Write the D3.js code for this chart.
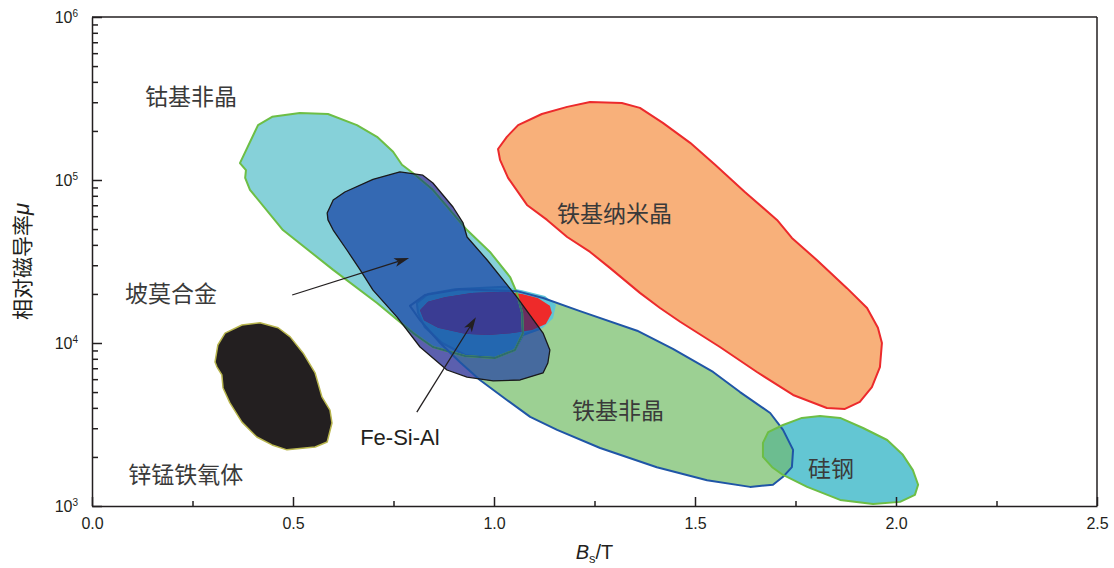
<!DOCTYPE html>
<html>
<head>
<meta charset="utf-8">
<script src="https://cdn.jsdelivr.net/npm/d3@7"></script>
<style>
  body { margin: 0; background: #fff; }
  svg { display: block; }
</style>
</head>
<body>
<div id="chart"></div>
<script>
// ─── Data: region outlines, [Bs (T), relative permeability μ] ───
const cobaltAmorphous = [
  [0.368, 1.27e5], [0.413, 2.17e5], [0.448, 2.44e5], [0.517, 2.58e5], [0.587, 2.54e5],
  [0.659, 2.17e5], [0.709, 1.84e5], [0.749, 1.49e5], [0.771, 1.24e5], [0.799, 1.10e5],
  [0.848, 8.7e4], [0.933, 4.93e4], [0.990, 3.62e4], [1.040, 2.54e4], [1.057, 2.03e4],
  [1.070, 1.53e4], [1.072, 1.15e4], [1.052, 9.06e3], [1.002, 8.09e3], [0.928, 8.32e3],
  [0.848, 9.45e3], [0.799, 1.15e4], [0.709, 1.76e4], [0.600, 2.81e4], [0.475, 4.93e4],
  [0.393, 8.7e4], [0.381, 1.03e5], [0.383, 1.15e5],
];

const permalloy = [
  [0.585, 6.28e4], [0.600, 7.54e4], [0.629, 8.44e4], [0.699, 1.01e5], [0.766, 1.12e5],
  [0.823, 1.07e5], [0.848, 9.59e4], [0.898, 6.83e4], [0.923, 5.45e4], [0.933, 4.47e4],
  [0.983, 3.23e4], [1.057, 1.91e4], [1.122, 1.15e4], [1.139, 9.06e3], [1.134, 7.54e3],
  [1.122, 6.55e3], [1.065, 5.93e3], [0.998, 5.85e3], [0.933, 6.18e3], [0.883, 6.83e3],
  [0.816, 9.45e3], [0.759, 1.44e4], [0.699, 2.11e4], [0.667, 2.81e4], [0.634, 3.72e4],
  [0.600, 4.93e4], [0.587, 5.69e4],
];

const ironNanocrystal = [
  [1.010, 1.55e5], [1.032, 1.84e5], [1.060, 2.17e5], [1.119, 2.54e5], [1.182, 2.81e5],
  [1.239, 3.01e5], [1.318, 2.97e5], [1.363, 2.77e5], [1.420, 2.24e5], [1.488, 1.69e5],
  [1.550, 1.24e5], [1.624, 8.44e4], [1.704, 5.69e4], [1.741, 4.41e4], [1.803, 3.23e4],
  [1.878, 2.17e4], [1.928, 1.64e4], [1.955, 1.24e4], [1.965, 1.00e4], [1.960, 7.12e3],
  [1.940, 5.37e3], [1.910, 4.35e3], [1.873, 3.94e3], [1.828, 3.99e3], [1.744, 4.80e3],
  [1.654, 6.64e3], [1.562, 9.45e3], [1.463, 1.35e4], [1.413, 1.64e4], [1.363, 2.03e4],
  [1.289, 2.88e4], [1.239, 3.62e4], [1.182, 4.47e4], [1.132, 5.69e4], [1.082, 7.03e4],
  [1.035, 1.03e5], [1.015, 1.33e5],
];

const ironAmorphous = [
  [0.791, 1.69e4], [0.828, 1.97e4], [0.915, 2.14e4], [1.057, 2.08e4], [1.122, 1.89e4],
  [1.214, 1.57e4], [1.356, 1.19e4], [1.445, 9.19e3], [1.545, 6.64e3], [1.612, 5.00e3],
  [1.687, 3.72e3], [1.719, 2.93e3], [1.744, 2.21e3], [1.741, 1.73e3], [1.719, 1.51e3],
  [1.694, 1.35e3], [1.637, 1.31e3], [1.530, 1.44e3], [1.405, 1.73e3], [1.264, 2.27e3],
  [1.157, 2.93e3], [1.090, 3.52e3], [1.032, 4.47e3], [0.965, 5.93e3], [0.915, 7.64e3],
  [0.866, 1.00e4], [0.816, 1.38e4],
];

const siliconSteel = [
  [1.669, 2.44e3], [1.682, 2.84e3], [1.719, 3.14e3], [1.766, 3.47e3], [1.811, 3.56e3],
  [1.861, 3.47e3], [1.918, 3.01e3], [1.978, 2.54e3], [2.017, 2.06e3], [2.042, 1.66e3],
  [2.055, 1.35e3], [2.047, 1.17e3], [2.010, 1.06e3], [1.943, 1.03e3], [1.861, 1.09e3],
  [1.779, 1.31e3], [1.719, 1.55e3], [1.692, 1.73e3], [1.669, 2.00e3],
];

const mnZnFerrite = [
  [0.306, 7.64e3], [0.313, 9.72e3], [0.331, 1.15e4], [0.373, 1.29e4], [0.418, 1.33e4],
  [0.463, 1.24e4], [0.493, 1.09e4], [0.525, 8.69e3], [0.555, 6.55e3], [0.572, 4.67e3],
  [0.592, 3.88e3], [0.597, 3.23e3], [0.585, 2.47e3], [0.555, 2.30e3], [0.485, 2.21e3],
  [0.448, 2.37e3], [0.410, 2.65e3], [0.373, 3.27e3], [0.343, 4.29e3], [0.326, 5.30e3],
  [0.323, 6.37e3], [0.311, 7.12e3],
];

// Fe-Si-Al: outer band and inner core
const feSiAlOuter = [
  [0.808, 1.76e4], [0.836, 2.00e4], [0.903, 2.14e4], [1.027, 2.21e4], [1.070, 2.11e4],
  [1.127, 1.94e4], [1.154, 1.71e4], [1.147, 1.42e4], [1.122, 1.24e4], [1.072, 1.12e4],
  [1.052, 9.06e3], [1.002, 8.09e3], [0.928, 8.44e3], [0.871, 1.00e4], [0.828, 1.25e4],
  [0.811, 1.53e4],
];
const feSiAlInner = [
  [0.816, 1.59e4], [0.836, 1.79e4], [0.878, 1.91e4], [0.945, 2.03e4], [1.027, 2.06e4],
  [1.070, 2.00e4], [1.109, 1.89e4], [1.139, 1.69e4], [1.144, 1.53e4], [1.129, 1.31e4],
  [1.095, 1.20e4], [1.045, 1.15e4], [0.985, 1.12e4], [0.928, 1.14e4], [0.861, 1.24e4],
  [0.826, 1.38e4],
];

// Region labels: text, left edge Bs, centre μ
const labels = [
  { text: "钴基非晶", bs: 0.132, mu: 3.32e5 },
  { text: "铁基纳米晶", bs: 1.157, mu: 6.37e4 },
  { text: "坡莫合金", bs: 0.082, mu: 2.06e4 },
  { text: "铁基非晶", bs: 1.194, mu: 3.94e3 },
  { text: "锌锰铁氧体", bs: 0.090, mu: 1.59e3 },
  { text: "硅钢", bs: 1.781, mu: 1.73e3 },
];
const feSiAlLabel = { text: "Fe-Si-Al", bs: 0.667, mu: 2.65e3 };

// Arrows: [from, to]
const arrows = [
  [[0.498, 1.97e4], [0.789, 3.32e4]],
  [[0.808, 3.77e3], [0.955, 1.44e4]],
];

const xTicks = [0, 0.5, 1.0, 1.5, 2.0, 2.5];
const xMinorTicks = [0.25, 0.75, 1.25, 1.75, 2.25];
const yExponents = [3, 4, 5, 6];

// ─── Layout ───
const W = 1114, H = 568;
const x = d3.scaleLinear().domain([0, 2.5]).range([92, 1097]);
const y = d3.scaleLog().domain([1e3, 1e6]).range([506, 17]);

const svg = d3.select("#chart").append("svg").attr("width", W).attr("height", H);
const defs = svg.append("defs");
const outline = d3.line().x((d) => x(d[0])).y((d) => y(d[1])).curve(d3.curveLinearClosed);

function addClip(id, pts) {
  defs.append("clipPath").attr("id", id).append("path").attr("d", outline(pts));
}
addClip("clip-cobalt", cobaltAmorphous);
addClip("clip-perm", permalloy);
addClip("clip-feamo", ironAmorphous);

function fill(parent, pts, color, clipId) {
  const p = parent.append("path").attr("d", outline(pts)).attr("fill", color);
  if (clipId) p.attr("clip-path", `url(#${clipId})`);
  return p;
}
function stroke(parent, pts, color, width, clipId) {
  const p = parent.append("path").attr("d", outline(pts))
    .attr("fill", "none").attr("stroke", color).attr("stroke-width", width)
    .attr("stroke-linejoin", "round");
  if (clipId) p.attr("clip-path", `url(#${clipId})`);
  return p;
}

const g = svg.append("g");

// ── Fills ──
fill(g, cobaltAmorphous, "#86D1D9");
fill(g, ironAmorphous, "#9CD093");
fill(g, ironNanocrystal, "#F8B07A");
fill(g, mnZnFerrite, "#231F20");
fill(g, siliconSteel, "#63C6D3");
fill(g, siliconSteel, "#6CBD90", "clip-feamo");

// permalloy and its overlaps
fill(g, permalloy, "#5B5FAE");
fill(g, ironAmorphous, "#466A9E", "clip-perm");
fill(g, cobaltAmorphous, "#3469B3", "clip-perm");

// Fe-Si-Al: plain colours outside permalloy, darker where it lies under it
fill(g, feSiAlOuter, "#5FC5D6");
fill(g, feSiAlInner, "#EE2A2A");
const permG = g.append("g").attr("clip-path", "url(#clip-perm)");
fill(permG, feSiAlOuter, "#2367B0");
stroke(permG, feSiAlOuter, "#1F5CAA", 2);
fill(permG, feSiAlInner, "#6B2D60");
fill(permG, feSiAlInner, "#3A3C93", "clip-cobalt");

// ── Outlines ──
stroke(g, cobaltAmorphous, "#6DBE45", 2);
stroke(g, cobaltAmorphous, "#2E6B6E", 2, "clip-perm");
stroke(g, ironAmorphous, "#1F55A6", 2);
stroke(g, ironNanocrystal, "#EC2A2C", 2);
stroke(g, mnZnFerrite, "#B8B54E", 1.5);
stroke(g, siliconSteel, "#6DBE45", 2);
stroke(g, permalloy, "#1A1A1A", 1.3);

// ── Arrows ──
arrows.forEach(([a, b]) => {
  const p0 = [x(a[0]), y(a[1])];
  const p1 = [x(b[0]), y(b[1])];
  const dx = p1[0] - p0[0], dy = p1[1] - p0[1];
  const len = Math.hypot(dx, dy);
  const ux = dx / len, uy = dy / len, nx = -uy, ny = ux;
  const L = 15, w = 4.5;
  const back = [p1[0] - L * ux, p1[1] - L * uy];
  const notch = [p1[0] - 0.75 * L * ux, p1[1] - 0.75 * L * uy];
  g.append("line")
    .attr("x1", p0[0]).attr("y1", p0[1])
    .attr("x2", notch[0]).attr("y2", notch[1])
    .attr("stroke", "#231F20").attr("stroke-width", 1.3);
  g.append("path")
    .attr("d", `M${p1[0]},${p1[1]} L${back[0] + w * nx},${back[1] + w * ny} L${notch[0]},${notch[1]} L${back[0] - w * nx},${back[1] - w * ny} Z`)
    .attr("fill", "#231F20");
});

// ── Region labels ──
g.selectAll("text.region")
  .data(labels)
  .join("text")
  .attr("class", "region")
  .attr("x", (d) => x(d.bs))
  .attr("y", (d) => y(d.mu))
  .attr("dominant-baseline", "central")
  .style("font-family", "'Noto Sans CJK SC', sans-serif")
  .style("font-size", "23px")
  .style("fill", "#3A3A3A")
  .text((d) => d.text);

g.append("text")
  .attr("x", x(feSiAlLabel.bs))
  .attr("y", y(feSiAlLabel.mu))
  .attr("dominant-baseline", "central")
  .style("font-family", "'Liberation Sans', Arial, sans-serif")
  .style("font-size", "22px")
  .style("fill", "#231F20")
  .text(feSiAlLabel.text);

// ── Axes ──
const axisColor = "#231F20";
const fontAxis = "'Liberation Sans', Arial, sans-serif";

const xAxis = svg.append("g").attr("transform", `translate(0,${y(1e3)})`)
  .call(d3.axisBottom(x).tickValues(xTicks).tickSize(-9).tickSizeOuter(0).tickPadding(12)
    .tickFormat(d3.format(".1f")));
svg.append("g").attr("transform", `translate(0,${y(1e3)})`)
  .call(d3.axisBottom(x).tickValues(xMinorTicks).tickSize(-5).tickSizeOuter(0).tickFormat(""))
  .select(".domain").remove();
xAxis.selectAll("text").style("font-family", fontAxis).style("font-size", "16px").style("fill", axisColor);

const yMinor = [];
yExponents.slice(0, -1).forEach((e) => {
  for (let k = 2; k <= 9; k++) yMinor.push(k * Math.pow(10, e));
});
svg.append("g").attr("transform", `translate(${x(0)},0)`)
  .call(d3.axisLeft(y).tickValues(yExponents.map((e) => Math.pow(10, e))).tickSize(-10).tickSizeOuter(0).tickFormat(""));
svg.append("g").attr("transform", `translate(${x(0)},0)`)
  .call(d3.axisLeft(y).tickValues(yMinor).tickSize(-6).tickSizeOuter(0).tickFormat(""))
  .select(".domain").remove();

svg.selectAll(".domain, .tick line").attr("stroke", axisColor).attr("stroke-width", 1.5);

// top and right frame
svg.append("line").attr("x1", x(0)).attr("x2", x(2.5)).attr("y1", y(1e6)).attr("y2", y(1e6))
  .attr("stroke", axisColor).attr("stroke-width", 1.5);
svg.append("line").attr("x1", x(2.5)).attr("x2", x(2.5)).attr("y1", y(1e6)).attr("y2", y(1e3))
  .attr("stroke", axisColor).attr("stroke-width", 1.5);

// y tick labels 10^n
const yLab = svg.selectAll("text.ylab")
  .data(yExponents)
  .join("text")
  .attr("class", "ylab")
  .attr("x", 78)
  .attr("y", (e) => y(Math.pow(10, e)) + 6)
  .attr("text-anchor", "end")
  .style("font-family", fontAxis)
  .style("font-size", "16px")
  .style("fill", axisColor);
yLab.append("tspan").text("10");
yLab.append("tspan").attr("dy", -6).style("font-size", "10px").text((e) => e);

// axis titles
const xTitle = svg.append("text")
  .attr("x", (x(0) + x(2.5)) / 2)
  .attr("y", 559)
  .attr("text-anchor", "middle")
  .style("font-family", fontAxis)
  .style("font-size", "20px")
  .style("fill", axisColor);
xTitle.append("tspan").style("font-style", "italic").text("B");
xTitle.append("tspan").attr("dy", 4).style("font-size", "13px").text("s");
xTitle.append("tspan").attr("dy", -4).text("/T");

const yTitle = svg.append("text")
  .attr("transform", `translate(21,${(y(1e3) + y(1e6)) / 2}) rotate(-90)`)
  .attr("text-anchor", "middle")
  .attr("dominant-baseline", "central")
  .style("font-size", "21px")
  .style("fill", axisColor);
yTitle.append("tspan").style("font-family", "'Noto Sans CJK SC', sans-serif").text("相对磁导率");
yTitle.append("tspan").style("font-family", fontAxis).style("font-style", "italic").style("font-size", "22px").text("μ");
</script>
</body>
</html>
